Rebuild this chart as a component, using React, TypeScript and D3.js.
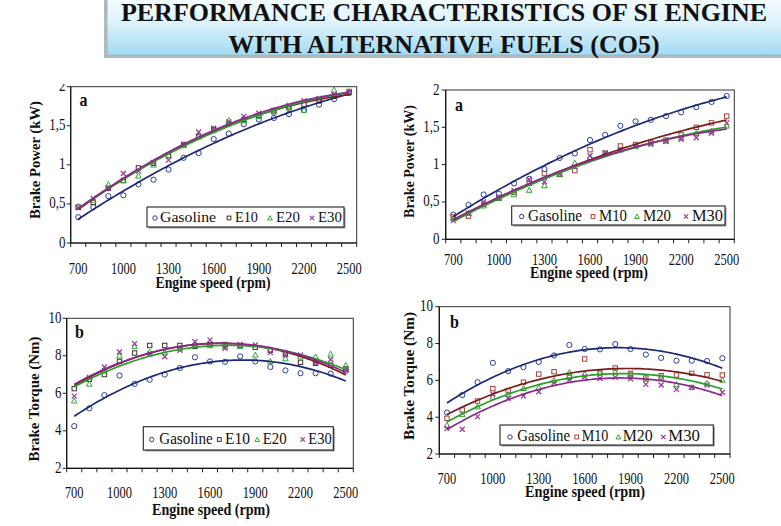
import React from 'react';
import * as d3 from 'd3';

// ---------- DATA ----------
const rpm = [700, 800, 900, 1000, 1100, 1200, 1300, 1400, 1500, 1600, 1700, 1800, 1900, 2000, 2100, 2200, 2300, 2400, 2500];
const rpmTickLabels = [700, 1000, 1300, 1600, 1900, 2200, 2500];

const powerTicks = [0, 0.5, 1, 1.5, 2];
const powerTickLabels = ['0', '0,5', '1', '1,5', '2'];
const torqueTicks = [2, 4, 6, 8, 10];
const torqueTickLabels = ['2', '4', '6', '8', '10'];

const ethanolNames = ['Gasoline', 'E10', 'E20', 'E30'];
const methanolNames = ['Gasoline', 'M10', 'M20', 'M30'];

const gasolinePower = [0.33, 0.46, 0.6, 0.61, 0.75, 0.81, 0.94, 1.09, 1.15, 1.33, 1.4, 1.52, 1.58, 1.6, 1.65, 1.7, 1.77, 1.84, 1.92];
const e10Power = [0.46, 0.52, 0.7, 0.8, 0.96, 1.02, 1.12, 1.26, 1.36, 1.45, 1.53, 1.58, 1.63, 1.68, 1.73, 1.77, 1.82, 1.88, 1.93];
const e20Power = [0.47, 0.55, 0.75, 0.8, 0.86, 1.0, 1.12, 1.25, 1.37, 1.46, 1.57, 1.57, 1.62, 1.7, 1.75, 1.7, 1.83, 1.96, 1.94];
const e30Power = [0.45, 0.57, 0.7, 0.89, 0.92, 1.03, 1.06, 1.26, 1.42, 1.47, 1.55, 1.62, 1.66, 1.7, 1.76, 1.82, 1.85, 1.9, 1.94];

const m10Power = [0.3, 0.31, 0.47, 0.56, 0.63, 0.75, 0.88, 0.87, 0.92, 1.2, 1.15, 1.25, 1.27, 1.3, 1.33, 1.4, 1.5, 1.56, 1.65];
const m20Power = [0.28, 0.35, 0.45, 0.55, 0.6, 0.66, 0.72, 0.87, 1.02, 1.1, 1.15, 1.2, 1.25, 1.28, 1.32, 1.36, 1.42, 1.45, 1.52];
const m30Power = [0.25, 0.35, 0.5, 0.55, 0.65, 0.8, 0.77, 0.87, 0.97, 1.12, 1.16, 1.2, 1.25, 1.28, 1.31, 1.34, 1.36, 1.42, 1.56];

const gasolineTorque = [4.25, 5.2, 5.9, 6.95, 6.5, 6.72, 7.0, 7.35, 7.92, 7.7, 7.68, 7.97, 7.7, 7.4, 7.22, 7.07, 7.07, 7.05, 7.2];
const e10Torque = [6.25, 6.75, 7.0, 7.7, 8.15, 8.55, 8.55, 8.55, 8.5, 8.6, 8.6, 8.55, 8.45, 8.3, 8.1, 7.65, 7.6, 7.5, 7.3];
const e20Torque = [5.6, 6.5, 7.2, 8.0, 8.5, 8.2, 8.2, 8.4, 8.6, 8.55, 8.5, 8.5, 8.05, 7.7, 7.85, 7.95, 7.95, 8.1, 7.5];
const e30Torque = [5.85, 6.85, 7.4, 8.2, 8.65, 8.1, 7.95, 8.3, 8.75, 8.85, 8.4, 8.6, 8.58, 8.17, 8.05, 8.05, 7.6, 7.8, 7.25];

const m10Torque = [3.94, 4.39, 4.88, 5.55, 5.44, 5.9, 6.34, 6.47, 6.16, 7.16, 6.4, 6.67, 6.38, 6.13, 6.25, 6.29, 6.38, 6.3, 6.29];
const m20Torque = [3.57, 4.15, 4.57, 5.1, 5.24, 5.57, 5.62, 6.0, 6.43, 6.33, 6.42, 6.45, 6.34, 6.07, 6.16, 5.78, 5.62, 5.84, 6.02];
const m30Torque = [3.39, 3.34, 4.03, 5.26, 5.02, 5.15, 5.38, 5.87, 6.02, 6.2, 6.1, 6.16, 6.09, 5.78, 5.75, 5.51, 5.62, 5.75, 5.35];

const titleLines = ['PERFORMANCE CHARACTERISTICS OF SI ENGINE', 'WITH ALTERNATIVE FUELS (CO5)'];

// ---------- STYLE ----------
const FONT = '"Liberation Serif", "Times New Roman", serif';
const markerKinds = ['circle', 'square', 'triangle', 'cross'];
const lineColors = ['#1c2775', '#7a1c1c', '#2aa02a', '#8c2a8c'];
const markerColorsE = ['#2b3c9a', '#3a3030', '#33aa33', '#9a3d9a'];
const markerColorsM = ['#2b3c9a', '#a0443a', '#2fa52f', '#9a3d9a'];

// Quadratic least-squares trendline (as the spreadsheet trendline)
function fitQuadratic(xs: number[], ys: number[]) {
  const t = xs.map((x) => x / 1000);
  const S = [0, 0, 0, 0, 0];
  const T = [0, 0, 0];
  t.forEach((tv, i) => {
    for (let k = 0; k < 5; k++) S[k] += Math.pow(tv, k);
    for (let k = 0; k < 3; k++) T[k] += ys[i] * Math.pow(tv, k);
  });
  const A = [
    [S[0], S[1], S[2], T[0]],
    [S[1], S[2], S[3], T[1]],
    [S[2], S[3], S[4], T[2]],
  ];
  for (let c = 0; c < 3; c++) {
    for (let r2 = c + 1; r2 < 3; r2++) {
      const f = A[r2][c] / A[c][c];
      for (let k = c; k < 4; k++) A[r2][k] -= f * A[c][k];
    }
  }
  const coef = [0, 0, 0];
  for (let c = 2; c >= 0; c--) {
    let s = A[c][3];
    for (let k = c + 1; k < 3; k++) s -= A[c][k] * coef[k];
    coef[c] = s / A[c][c];
  }
  return (x: number) => {
    const tv = x / 1000;
    return coef[0] + coef[1] * tv + coef[2] * tv * tv;
  };
}

function Marker({ kind, x, y, color, s = 1 }: { kind: string; x: number; y: number; color: string; s?: number }) {
  if (kind === 'circle') return <circle cx={x} cy={y} r={2.6 * s} fill="none" stroke={color} strokeWidth={1} />;
  if (kind === 'square') {
    const h = 2.2 * s;
    return <rect x={x - h} y={y - h} width={2 * h} height={2 * h} fill="none" stroke={color} strokeWidth={1} />;
  }
  if (kind === 'triangle') {
    const h = 2.8 * s;
    return <path d={`M${x},${y - h}L${x + h},${y + h * 0.8}L${x - h},${y + h * 0.8}Z`} fill="none" stroke={color} strokeWidth={1} />;
  }
  const h = 2.5 * s;
  return (
    <path d={`M${x - h},${y - h}L${x + h},${y + h}M${x - h},${y + h}L${x + h},${y - h}`} stroke={color} strokeWidth={1.3} fill="none" />
  );
}

function SText({ x, y, sy = 1.3, children, ...rest }: any) {
  return (
    <text transform={`translate(${x},${y}) scale(1,${sy})`} fontFamily={FONT} fill="#111" {...rest}>
      {children}
    </text>
  );
}

type PanelCfg = {
  id: string;
  geom: { l: number; r: number; t: number; b: number };
  yDomain: [number, number];
  yTicks: number[];
  yTickLabels: string[];
  names: string[];
  data: number[][];
  markerColors: string[];
  letter: { text: string; x: number; y: number };
  yTitle: { text: string; cx: number; cy: number; len: number };
  xTitle: { x: number; y: number; len: number };
  xTickBaseline: number;
  yTickRight: number;
  legend: { x: number; y: number; w: number; h: number; mx: number[]; tx: number[]; tEnd: number[]; base: number; fs: number };
  clipTop?: number;
};

function Panel({ cfg }: { cfg: PanelCfg }) {
  const { l, r, t, b } = cfg.geom;
  const xBand = d3.scaleBand<number>().domain(rpm).range([l, r]).paddingInner(0).paddingOuter(0);
  const bw = xBand.bandwidth();
  const cx = (v: number) => (xBand(v) as number) + bw / 2;
  const xLin = d3.scaleLinear().domain([rpm[0], rpm[rpm.length - 1]]).range([cx(rpm[0]), cx(rpm[rpm.length - 1])]);
  const y = d3.scaleLinear().domain(cfg.yDomain).range([b, t]);
  const samples = d3.range(rpm[0], rpm[rpm.length - 1] + 1, 20);
  const line = d3.line<[number, number]>().x((d) => xLin(d[0])).y((d) => y(d[1]));
  const boundaries = rpm.map((v) => xBand(v) as number).concat([r]);
  const lg = cfg.legend;
  const clipId = `clip-${cfg.id}`;

  return (
    <g clipPath={cfg.clipTop !== undefined ? `url(#${clipId})` : undefined}>
      {cfg.clipTop !== undefined && (
        <defs>
          <clipPath id={clipId}>
            <rect x={0} y={cfg.clipTop} width={781} height={526} />
          </clipPath>
        </defs>
      )}
      <rect x={l} y={t} width={r - l} height={b - t} fill="#fff" stroke="#333" strokeWidth={1} />
      {/* x ticks */}
      {boundaries.map((bx, i) => (
        <line key={`xt${i}`} x1={bx} x2={bx} y1={b} y2={b + 4} stroke="#222" strokeWidth={1} />
      ))}
      {/* y ticks */}
      {cfg.yTicks.map((v, i) => (
        <line key={`yt${i}`} x1={l - 4} x2={l} y1={y(v)} y2={y(v)} stroke="#222" strokeWidth={1} />
      ))}
      <line x1={l} x2={l} y1={t} y2={b} stroke="#111" strokeWidth={1.2} />
      <line x1={l} x2={r} y1={b} y2={b} stroke="#111" strokeWidth={1.2} />
      {/* markers */}
      {cfg.data.map((vals, si) =>
        vals.map((v, i) => (
          <Marker key={`m${si}-${i}`} kind={markerKinds[si]} x={cx(rpm[i])} y={y(v)} color={cfg.markerColors[si]} />
        ))
      )}
      {/* trendlines */}
      {cfg.data.map((vals, si) => {
        const f = fitQuadratic(rpm, vals);
        const pts = samples.map((s) => [s, f(s)] as [number, number]);
        return <path key={`l${si}`} d={line(pts) || ''} fill="none" stroke={lineColors[si]} strokeWidth={1.7} />;
      })}
      {/* letter */}
      <SText x={cfg.letter.x} y={cfg.letter.y} sy={1.2} fontSize={16} fontWeight="bold">
        {cfg.letter.text}
      </SText>
      {/* y tick labels */}
      {cfg.yTicks.map((v, i) => (
        <SText key={`yl${i}`} x={cfg.yTickRight} y={y(v) + 4.5} sy={1.35} fontSize={13} textAnchor="end">
          {cfg.yTickLabels[i]}
        </SText>
      ))}
      {/* x tick labels */}
      {rpmTickLabels.map((v) => (
        <SText key={`xl${v}`} x={cx(v)} y={cfg.xTickBaseline} sy={1.35} fontSize={12.5} textAnchor="middle">
          {String(v)}
        </SText>
      ))}
      {/* axis titles */}
      <SText
        x={cfg.xTitle.x}
        y={cfg.xTitle.y}
        sy={1.2}
        fontSize={13.5}
        fontWeight="bold"
        textAnchor="middle"
        textLength={cfg.xTitle.len}
        lengthAdjust="spacingAndGlyphs"
      >
        Engine speed (rpm)
      </SText>
      <text
        transform={`translate(${cfg.yTitle.cx + 4.5},${cfg.yTitle.cy}) rotate(-90) scale(1,1.1)`}
        fontFamily={FONT}
        fontWeight="bold"
        fontSize={14}
        textAnchor="middle"
        fill="#111"
        textLength={cfg.yTitle.len}
        lengthAdjust="spacingAndGlyphs"
      >
        {cfg.yTitle.text}
      </text>
      {/* legend */}
      <rect x={lg.x + 1.5} y={lg.y + 1.5} width={lg.w} height={lg.h} fill="#9a9a9a" />
      <rect x={lg.x} y={lg.y} width={lg.w} height={lg.h} fill="#fff" stroke="#222" strokeWidth={1.1} />
      {cfg.names.map((n, i) => (
        <g key={`lg${i}`}>
          <Marker kind={markerKinds[i]} x={lg.mx[i]} y={lg.base - 4} color={cfg.markerColors[i]} s={0.85} />
          <SText
            x={lg.tx[i]}
            y={lg.base}
            sy={1.15}
            fontSize={lg.fs}
            textLength={lg.tEnd[i] - lg.tx[i]}
            lengthAdjust="spacingAndGlyphs"
          >
            {n}
          </SText>
        </g>
      ))}
    </g>
  );
}

const panels: PanelCfg[] = [
  {
    id: 'tl',
    geom: { l: 70.7, r: 356.7, t: 86.7, b: 243 },
    yDomain: [0, 2],
    yTicks: powerTicks,
    yTickLabels: powerTickLabels,
    names: ethanolNames,
    data: [gasolinePower, e10Power, e20Power, e30Power],
    markerColors: markerColorsE,
    letter: { text: 'a', x: 79.5, y: 106 },
    yTitle: { text: 'Brake Power (kW)', cx: 35, cy: 160, len: 118 },
    xTitle: { x: 213, y: 288, len: 115 },
    xTickBaseline: 273.5,
    yTickRight: 65.5,
    legend: { x: 147, y: 207, w: 197, h: 20, mx: [155, 229, 270, 312], tx: [160, 235, 276, 318], tEnd: [216, 258, 300, 342], base: 222, fs: 13 },
    clipTop: 84,
  },
  {
    id: 'tr',
    geom: { l: 445.7, r: 734.3, t: 90, b: 239.3 },
    yDomain: [0, 2],
    yTicks: powerTicks,
    yTickLabels: powerTickLabels,
    names: methanolNames,
    data: [gasolinePower, m10Power, m20Power, m30Power],
    markerColors: markerColorsM,
    letter: { text: 'a', x: 455, y: 111 },
    yTitle: { text: 'Brake Power (kW)', cx: 409, cy: 161.5, len: 113 },
    xTitle: { x: 589, y: 277.5, len: 118 },
    xTickBaseline: 265,
    yTickRight: 439.5,
    legend: { x: 511.7, y: 206, w: 213.3, h: 19, mx: [521.7, 593, 637, 686], tx: [528, 599, 643, 692], tEnd: [582, 627, 671, 723], base: 220.5, fs: 14.5 },
  },
  {
    id: 'bl',
    geom: { l: 66.7, r: 353.3, t: 318.3, b: 468.3 },
    yDomain: [2, 10],
    yTicks: torqueTicks,
    yTickLabels: torqueTickLabels,
    names: ethanolNames,
    data: [gasolineTorque, e10Torque, e20Torque, e30Torque],
    markerColors: markerColorsE,
    letter: { text: 'b', x: 75, y: 338 },
    yTitle: { text: 'Brake Torque (Nm)', cx: 34, cy: 399, len: 125 },
    xTitle: { x: 211, y: 514.5, len: 118 },
    xTickBaseline: 498,
    yTickRight: 61.5,
    legend: { x: 143.3, y: 426.7, w: 190, h: 23.3, mx: [151.7, 219.3, 257.3, 302.7], tx: [159.3, 225, 262.7, 308.3], tEnd: [212.7, 250, 286.7, 331.7], base: 443.5, fs: 14 },
  },
  {
    id: 'br',
    geom: { l: 439.3, r: 730, t: 306.7, b: 454 },
    yDomain: [2, 10],
    yTicks: torqueTicks,
    yTickLabels: torqueTickLabels,
    names: methanolNames,
    data: [gasolineTorque, m10Torque, m20Torque, m30Torque],
    markerColors: markerColorsM,
    letter: { text: 'b', x: 450, y: 328 },
    yTitle: { text: 'Brake Torque (Nm)', cx: 409, cy: 376, len: 128 },
    xTitle: { x: 585, y: 497, len: 120 },
    xTickBaseline: 484,
    yTickRight: 433,
    legend: { x: 500, y: 425, w: 213.3, h: 20, mx: [510, 576.7, 618.3, 663.3], tx: [517.3, 581.7, 622.7, 668.3], tEnd: [570, 608.3, 652.7, 700], base: 441, fs: 14.5 },
  },
];

export default function App() {
  return (
    <svg
      width={781}
      height={526}
      viewBox="0 0 781 526"
      style={{ position: 'absolute', left: 0, top: 0, background: '#fff' }}
    >
      <defs>
        <linearGradient id="titleGrad" x1="0" y1="0" x2="0" y2="1">
          <stop offset="0" stopColor="#f4fcff" />
          <stop offset="0.45" stopColor="#dcf2fb" />
          <stop offset="1" stopColor="#a3daf3" />
        </linearGradient>
      </defs>
      <rect x={0} y={0} width={781} height={526} fill="#fff" />
      {/* title banner */}
      <rect x={104} y={-2} width={680} height={60} fill="#b8b8b8" />
      <rect x={107} y={-2} width={676} height={57} fill="url(#titleGrad)" stroke="#8fbad2" strokeWidth={1} />
      {titleLines.map((tl, i) => (
        <text
          key={i}
          x={444}
          y={i === 0 ? 20.7 : 52.5}
          fontFamily={FONT}
          fontWeight="bold"
          fontSize={26}
          textAnchor="middle"
          fill="#111"
        >
          {tl}
        </text>
      ))}
      {panels.map((p) => (
        <Panel key={p.id} cfg={p} />
      ))}
    </svg>
  );
}
